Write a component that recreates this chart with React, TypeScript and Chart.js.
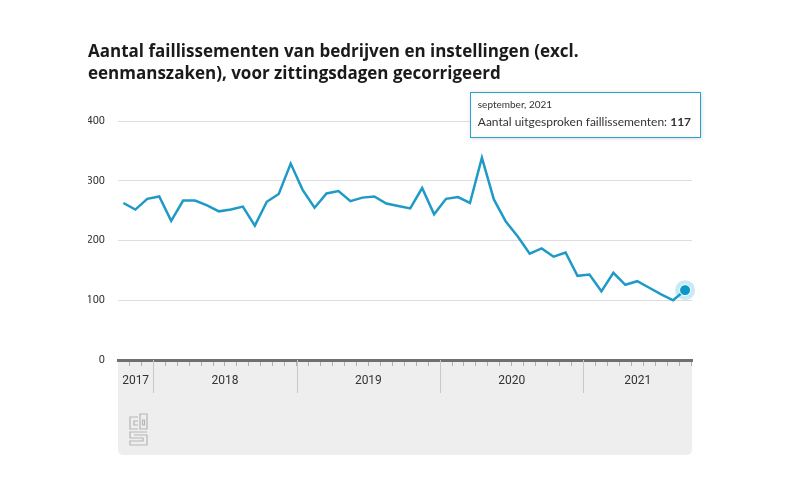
import { useEffect, useRef } from 'react';
import { Chart, registerables } from 'chart.js';

Chart.register(...registerables);

// Data: monthly, oktober 2017 – september 2021
const monthNames = ['januari', 'februari', 'maart', 'april', 'mei', 'juni', 'juli', 'augustus', 'september', 'oktober', 'november', 'december'];
const firstYear = 2017;
const firstMonth = 9; // oktober
const values = [263, 252, 270, 274, 233, 267, 267, 259, 249, 252, 257, 225, 265, 278, 329, 285, 255, 279, 283, 266, 272, 274, 262, 258, 254, 288, 244, 270, 273, 263, 339, 269, 232, 207, 178, 187, 173, 180, 141, 143, 115, 146, 126, 132, 121, 110, 100, 117];
const periodMonth: number[] = values.map((_, i) => (firstMonth + i) % 12);
const periodYear: number[] = values.map((_, i) => firstYear + Math.floor((firstMonth + i) / 12));
const periodLabels = values.map((_, i) => `${monthNames[periodMonth[i]]}, ${periodYear[i]}`);
const yTicks = [0, 100, 200, 300, 400];
const titleLines = ['Aantal faillissementen van bedrijven en instellingen (excl.', 'eenmanszaken), voor zittingsdagen gecorrigeerd'];
const seriesName = 'Aantal uitgesproken faillissementen';

const LINE = '#1f9ac6';
const FONT = 'Roboto, "Open Sans", sans-serif';
const TIP_FONT = 'Lato, Roboto, sans-serif';

// month boundaries (between data points) and year boundaries
const monthBounds = values.map((_, i) => i - 0.5).concat([values.length - 0.5]);
const yearStarts = values.map((_, i) => i).filter(i => periodMonth[i] === 0);

const bandPlugin = {
  id: 'band',
  beforeDraw(chart: any) {
    const { ctx, chartArea } = chart;
    const l = chartArea.left, r = chartArea.right, t = chartArea.bottom, b = chartArea.bottom + 95;
    ctx.save();
    ctx.fillStyle = '#eeeeee';
    ctx.beginPath();
    const rad = 6;
    ctx.moveTo(l, t);
    ctx.lineTo(r, t);
    ctx.lineTo(r, b - rad);
    ctx.quadraticCurveTo(r, b, r - rad, b);
    ctx.lineTo(l + rad, b);
    ctx.quadraticCurveTo(l, b, l, b - rad);
    ctx.closePath();
    ctx.fill();
    ctx.restore();
  },
  afterDraw(chart: any) {
    const { ctx, chartArea, scales } = chart;
    const x = scales.x;
    const t = chartArea.bottom;
    ctx.save();
    // year separators
    ctx.strokeStyle = '#c8c8c8';
    ctx.lineWidth = 1;
    const bounds = yearStarts.map(i => x.getPixelForValue(i - 0.5));
    bounds.forEach(px => {
      ctx.beginPath();
      ctx.moveTo(Math.round(px) + 0.5, t);
      ctx.lineTo(Math.round(px) + 0.5, t + 33);
      ctx.stroke();
    });
    // year labels
    const edges = [chartArea.left, ...bounds, chartArea.right];
    const yearsShown = [periodYear[0], ...yearStarts.map(i => periodYear[i])];
    ctx.fillStyle = '#333';
    ctx.font = `12px ${FONT}`;
    ctx.textAlign = 'center';
    ctx.textBaseline = 'middle';
    yearsShown.forEach((yr, k) => {
      ctx.fillText(String(yr), (edges[k] + edges[k + 1]) / 2, t + 21);
    });
    // logo (simplified cbs mark)
    const lx = chartArea.left + 12, ly = t + 57;
    ctx.strokeStyle = '#b5b5b5';
    ctx.lineWidth = 1.2;
    ctx.beginPath();
    ctx.moveTo(lx + 8, ly); ctx.lineTo(lx, ly); ctx.lineTo(lx, ly + 12); ctx.lineTo(lx + 8, ly + 12);
    ctx.moveTo(lx + 8, ly + 4); ctx.lineTo(lx + 4, ly + 4); ctx.lineTo(lx + 4, ly + 8); ctx.lineTo(lx + 8, ly + 8);
    ctx.rect(lx + 10, ly - 3, 7, 15);
    ctx.rect(lx + 12.5, ly + 3, 2, 5);
    ctx.moveTo(lx + 17, ly + 15); ctx.lineTo(lx, ly + 15); ctx.lineTo(lx, ly + 21); ctx.lineTo(lx + 13, ly + 21); ctx.lineTo(lx + 13, ly + 24); ctx.lineTo(lx, ly + 24); ctx.lineTo(lx, ly + 28); ctx.lineTo(lx + 17, ly + 28); ctx.lineTo(lx + 17, ly + 18); ctx.lineTo(lx + 4, ly + 18);
    ctx.stroke();
    ctx.restore();
  },
};

const highlightPlugin = {
  id: 'highlight',
  afterDatasetsDraw(chart: any) {
    const { ctx, scales } = chart;
    const i = values.length - 1;
    const px = scales.x.getPixelForValue(i);
    const py = scales.y.getPixelForValue(values[i]);
    ctx.save();
    ctx.fillStyle = 'rgba(0,161,205,0.22)';
    ctx.beginPath();
    ctx.arc(px, py, 10, 0, Math.PI * 2);
    ctx.fill();
    ctx.fillStyle = '#0a98c8';
    ctx.strokeStyle = '#ffffff';
    ctx.lineWidth = 1;
    ctx.beginPath();
    ctx.arc(px, py, 5.5, 0, Math.PI * 2);
    ctx.fill();
    ctx.stroke();
    ctx.restore();
  },
};

const tooltipPlugin = {
  id: 'fixedTooltip',
  afterDraw(chart: any) {
    const { ctx, scales } = chart;
    const i = values.length - 1;
    const px = scales.x.getPixelForValue(i);
    const line1 = periodLabels[i];
    const lead = `${seriesName}: `;
    const val = String(values[i]);
    ctx.save();
    ctx.font = `12px ${TIP_FONT}`;
    const wLead = ctx.measureText(lead).width;
    ctx.font = `bold 12px ${TIP_FONT}`;
    const wVal = ctx.measureText(val).width;
    const w = wLead + wVal + 17;
    const right = px + 15;
    const left = right - w;
    const top = 92, h = 45;
    ctx.shadowColor = 'rgba(0,0,0,0.22)';
    ctx.shadowBlur = 4;
    ctx.shadowOffsetX = 1;
    ctx.shadowOffsetY = 1;
    ctx.fillStyle = '#ffffff';
    ctx.fillRect(left, top, w, h);
    ctx.shadowColor = 'transparent';
    ctx.strokeStyle = '#2aa3cc';
    ctx.lineWidth = 1;
    ctx.strokeRect(Math.round(left) + 0.5, top + 0.5, Math.round(w), h);
    ctx.fillStyle = '#333';
    ctx.textBaseline = 'middle';
    ctx.textAlign = 'left';
    ctx.font = `10px ${TIP_FONT}`;
    ctx.fillText(line1, left + 8, top + 13);
    ctx.font = `12px ${TIP_FONT}`;
    ctx.fillText(lead, left + 8, top + 30);
    ctx.font = `bold 12px ${TIP_FONT}`;
    ctx.fillText(val, left + 8 + wLead, top + 30);
    ctx.restore();
  },
};

export default function App() {
  const ref = useRef<HTMLCanvasElement | null>(null);
  useEffect(() => {
    if (!ref.current) return;
    const chart = new Chart(ref.current, {
      type: 'line',
      data: {
        datasets: [{
          label: seriesName,
          data: values.map((v, i) => ({ x: i, y: v })),
          borderColor: LINE,
          borderWidth: 2.5,
          pointRadius: 0,
          tension: 0,
          fill: false,
        }],
      },
      options: {
        animation: false,
        responsive: false,
        maintainAspectRatio: false,
        layout: { padding: { left: 88, right: 108, top: 0, bottom: 32 } },
        plugins: {
          legend: { display: false },
          tooltip: { enabled: false },
          title: {
            display: true,
            text: titleLines,
            align: 'start',
            color: '#1a1a1a',
            font: { family: '"Open Sans", sans-serif', size: 17, weight: 'bold', lineHeight: 1.3 },
            padding: { top: 41, bottom: 36 },
          },
        },
        scales: {
          x: {
            type: 'linear',
            min: -0.45,
            max: values.length - 1 + 0.58,
            afterBuildTicks: (s: any) => { s.ticks = monthBounds.filter(v => v > s.min && v < s.max).map(v => ({ value: v })); },
            afterFit: (s: any) => { s.height = 100; },
            grid: { drawOnChartArea: false, drawTicks: true, tickLength: 6, color: '#b0b0b0', tickColor: '#b0b0b0' },
            border: { display: true, color: '#707070', width: 3 },
            ticks: { callback: () => '', autoSkip: false, maxRotation: 0 },
          },
          y: {
            min: 0,
            max: 400,
            afterBuildTicks: (s: any) => { s.ticks = yTicks.map(v => ({ value: v })); },
            afterFit: (s: any) => { s.width = 30; },
            ticks: { padding: 13, color: '#333', font: { family: FONT, size: 11 } },
            grid: { color: '#dddddd', drawTicks: false, lineWidth: 1 },
            border: { display: false },
          },
        },
      },
      plugins: [bandPlugin, highlightPlugin, tooltipPlugin],
    } as any);
    return () => chart.destroy();
  }, []);
  return (
    <div style={{ position: 'fixed', left: 0, top: 0, width: 800, height: 492, background: '#fff' }}>
      <canvas ref={ref} width={800} height={492} style={{ display: 'block', width: 800, height: 492 }} />
    </div>
  );
}
